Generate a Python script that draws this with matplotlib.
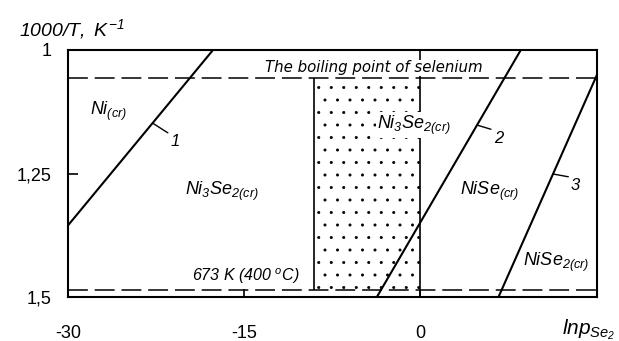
import matplotlib
matplotlib.use("Agg")
import matplotlib.pyplot as plt
import matplotlib.hatch as mhatch
import numpy as np
from matplotlib.patches import Rectangle

plt.rcParams['font.family'] = ['Liberation Sans', 'DejaVu Sans']
plt.rcParams['mathtext.fontset'] = 'custom'
plt.rcParams['mathtext.rm'] = 'Liberation Sans:italic'
plt.rcParams['mathtext.it'] = 'Liberation Sans:italic'
plt.rcParams['hatch.linewidth'] = 0.5


# slightly sparser stipple than the stock '.' hatch
class Pontilhado(mhatch.SmallFilledCircles):
    size = 0.09

    def __init__(self, hatch, density):
        self.num_rows = hatch.count('.') * 8
        mhatch.Circles.__init__(self, hatch, density)


mhatch._hatch_types = [Pontilhado if t is mhatch.SmallFilledCircles else t
                       for t in mhatch._hatch_types]

# equilibrium lines (lnp_Se2, 1000/T)
linha1_x = [-30.0, -17.64]
linha1_y = [1.355, 1.0]
linha2_x = [-3.67, 8.6]
linha2_y = [1.5, 1.0]
linha3_x = [6.7, 15.1]
linha3_y = [1.5, 1.05]

ebulicao_se = 1.056      # boiling point of selenium
t_673 = 1000 / 673       # 673 K
zona_x = [-9.0, 0.0]     # dotted Ni3Se2 band

x_ticks = [-30, -15, 0]
x_ticklabels = ['-30', '-15', '0']
y_ticks = [1.0, 1.25, 1.5]
y_ticklabels = ['1', '1,25', '1,5']

fig = plt.figure(figsize=(6.19, 3.41), dpi=100)
ax = fig.add_axes([0.1099, 0.129, 0.8546, 0.7244])

ax.set_xlim(-30, 15.1)
ax.set_ylim(1.5, 1.0)

for lx, ly in [(linha1_x, linha1_y), (linha2_x, linha2_y), (linha3_x, linha3_y)]:
    ax.plot(lx, ly, color='black', lw=1.5, solid_capstyle='butt')

traco = (0, (13, 4.5))
ax.axhline(ebulicao_se, color='black', lw=1.1, linestyle=traco)
ax.axhline(t_673, color='black', lw=1.1, linestyle=traco)
ax.axvline(0, color='black', lw=1.2)

ax.add_patch(Rectangle((zona_x[0], ebulicao_se), zona_x[1] - zona_x[0],
                       t_673 - ebulicao_se, facecolor='none',
                       edgecolor='black', lw=0, hatch='.', zorder=1))
ax.vlines(zona_x[0], ebulicao_se, t_673, color='black', lw=1.2)

# numbered leaders
def rotulo(lx, ly, y0, texto, dx, dy):
    x0 = np.interp(y0, ly[::-1], lx[::-1])
    ax.annotate('', xy=(x0, y0), xytext=(dx, dy), textcoords='offset points',
                arrowprops=dict(arrowstyle='-', color='black', lw=1.0,
                                shrinkA=0, shrinkB=0))
    ax.annotate(texto, xy=(x0, y0), xytext=(dx + 2, dy - 1),
                textcoords='offset points', ha='left', va='top',
                fontsize=12, style='italic')

rotulo(linha1_x, linha1_y, 1.148, '1', 11, -7)
rotulo(linha2_x, linha2_y, 1.152, '2', 10, -3)
rotulo(linha3_x, linha3_y, 1.251, '3', 11, -2)

fases = [
    (-28.1, 1.125, r'$Ni_{(cr)}$'),
    (-20.0, 1.287, r'$Ni_3Se_{2(cr)}$'),
    (3.4, 1.287, r'$NiSe_{(cr)}$'),
    (8.8, 1.429, r'$NiSe_{2(cr)}$'),
]
for fx, fy, ft in fases:
    ax.text(fx, fy, ft, fontsize=13, ha='left', va='center')

ax.text(-3.66, 1.152, r'$Ni_3Se_{2(cr)}$', fontsize=13, ha='left',
        va='center', zorder=3,
        bbox=dict(facecolor='white', edgecolor='none', pad=1.0))

ax.text(-13.2, 1.036, 'The boiling point of selenium', fontsize=10.8,
        family='DejaVu Sans', style='italic', ha='left', va='center', zorder=3,
        bbox=dict(facecolor='white', edgecolor='none', pad=0.5))
ax.text(-19.4, 1.457, r'673 K (400 $^{o}$C)', fontsize=11.5, style='italic',
        ha='left', va='center')

ax.set_xticks(x_ticks)
ax.set_xticklabels(x_ticklabels)
ax.set_yticks(y_ticks)
ax.set_yticklabels(y_ticklabels)
ax.tick_params(axis='x', direction='in', length=6, width=1.2, pad=20, labelsize=13)
ax.tick_params(axis='y', direction='in', length=7, width=1.2, pad=12, labelsize=13)
ax.yaxis.get_major_ticks()[0].tick1line.set_visible(False)
ax.yaxis.get_major_ticks()[-1].tick1line.set_visible(False)
ax.xaxis.get_major_ticks()[0].tick1line.set_visible(False)

for s in ax.spines.values():
    s.set_linewidth(1.5)

fig.text(0.03, 0.915, r'$1000/T,\ K^{-1}$', fontsize=14, ha='left', va='center')
fig.text(0.908, 0.032, r'$lnp_{Se_2}$', fontsize=15, ha='left', va='center')

fig.savefig('out.png', dpi=100)
